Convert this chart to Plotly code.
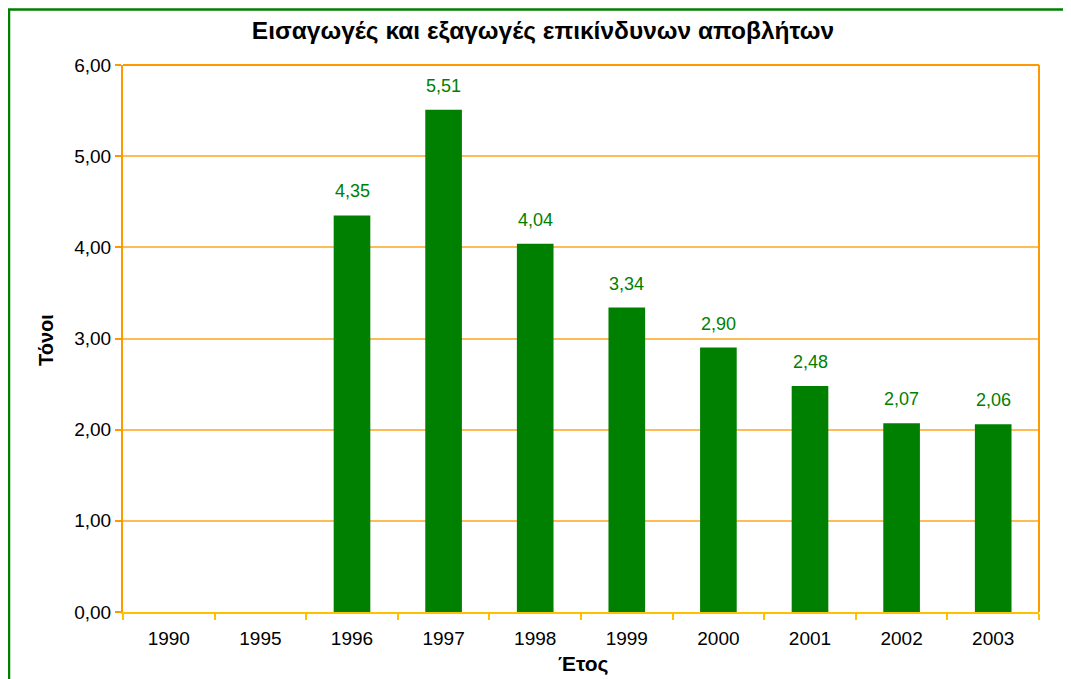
import plotly.graph_objects as go

years = ["1990", "1995", "1996", "1997", "1998", "1999", "2000", "2001", "2002", "2003"]
values = [None, None, 4.35, 5.51, 4.04, 3.34, 2.90, 2.48, 2.07, 2.06]
y_ticks = [0, 1, 2, 3, 4, 5, 6]

title_text = "Εισαγωγές και εξαγωγές επικίνδυνων αποβλήτων"
y_title = "Τόνοι"
x_title = "Έτος"

OFF = 8  # page body margin
W, H = 1071, 679
# plot area in screen pixels, converted to figure pixels
L, R, T, B = 123 - OFF, 1039 - OFF, 65 - OFF, 612 - OFF
pw, ph = R - L, B - T

def px_x(sx):
    return (sx - OFF - L) / pw

def px_y(sy):
    return (B - (sy - OFF)) / ph

FONT = "Liberation Sans, Arial, sans-serif"
GREEN = "#008000"
ORANGE = "#FF9900"
GOLD = "#FFC000"

fig = go.Figure()
fig.add_trace(go.Bar(x=years, y=values, marker=dict(color=GREEN, line=dict(width=0)),
                     hoverinfo="skip"))

annotations = []
for i, (yr, v) in enumerate(zip(years, values)):
    if v is None:
        continue
    annotations.append(dict(x=i, y=v, xref="x", yref="y", text=f"{v:.2f}".replace(".", ","),
                            showarrow=False, yshift=24, font=dict(family=FONT, size=18, color=GREEN)))

annotations.append(dict(x=px_x(46), y=px_y(340), xref="paper", yref="paper", text=f"<b>{y_title}</b>",
                        xanchor="center", yanchor="middle",
                        textangle=-90, showarrow=False, font=dict(family=FONT, size=20, color="black")))
annotations.append(dict(x=px_x(583), y=px_y(664), xref="paper", yref="paper", text=f"<b>{x_title}</b>",
                        xanchor="center", yanchor="middle",
                        showarrow=False, font=dict(family=FONT, size=21, color="black")))

shapes = [
    dict(type="rect", xref="paper", yref="paper", x0=px_x(9), y0=px_y(720), x1=px_x(1120), y1=px_y(9.5),
         line=dict(color=GREEN, width=2.5), layer="below"),
    dict(type="line", xref="paper", yref="paper", x0=0, x1=1, y0=1, y1=1, line=dict(color=ORANGE, width=2)),
    dict(type="line", xref="paper", yref="paper", x0=1, x1=1, y0=0, y1=1, line=dict(color=ORANGE, width=2)),
]

fig.update_layout(
    width=W, height=H,
    margin=dict(l=L, r=W - R, t=T, b=H - B, pad=0, autoexpand=False),
    paper_bgcolor="white", plot_bgcolor="white",
    separators=",.",
    bargap=0.6,
    showlegend=False,
    title=dict(text=f"<b>{title_text}</b>", x=(543 - OFF) / W, xanchor="center", y=1 - (30 - OFF) / H,
               yanchor="middle", font=dict(family=FONT, size=24.5, color="black")),
    font=dict(family=FONT, size=19, color="black"),
    annotations=annotations,
    shapes=shapes,
    xaxis=dict(type="category", categoryorder="array", categoryarray=years, range=[-0.5, len(years) - 0.5],
               showline=True, linecolor=GOLD, linewidth=2,
               ticks="outside", tickson="boundaries", ticklen=6, tickcolor=GOLD, tickwidth=2,
               tickangle=0, automargin=False, ticklabelstandoff=8,
               showgrid=False, tickfont=dict(family=FONT, size=19, color="black"), fixedrange=True),
    yaxis=dict(range=[0, 6], tickvals=y_ticks, tickformat=".2f",
               showline=True, linecolor=ORANGE, linewidth=2, automargin=False,
               ticks="outside", ticklen=6, tickcolor=ORANGE, tickwidth=2,
               showgrid=True, gridcolor="#FFBB55", gridwidth=1.5, zeroline=False,
               tickfont=dict(family=FONT, size=19, color="black"), fixedrange=True),
)

fig.write_html("out.html")
